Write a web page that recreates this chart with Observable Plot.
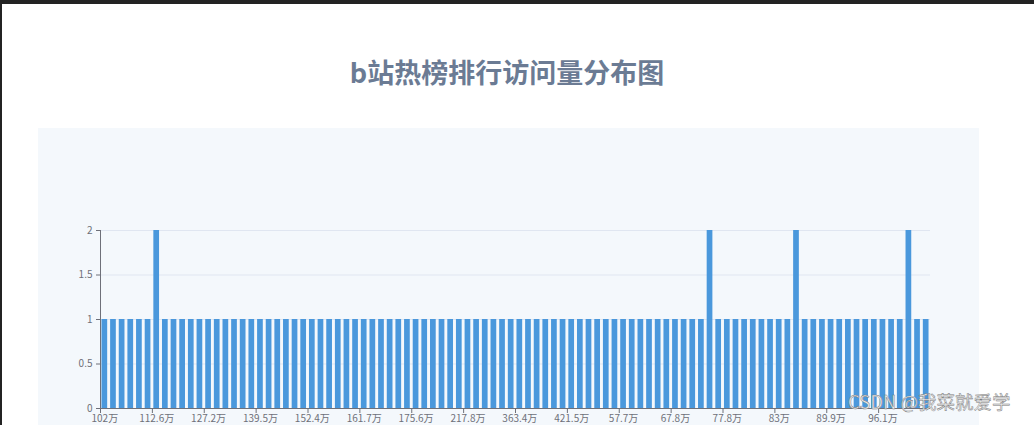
<!DOCTYPE html>
<html>
<head>
<meta charset="utf-8">
<script src="https://cdn.jsdelivr.net/npm/d3@7"></script>
<script src="https://cdn.jsdelivr.net/npm/@observablehq/plot@0.6"></script>
<style>
  html, body { margin: 0; padding: 0; width: 1034px; height: 425px; overflow: hidden; background: #fff; }
  #page { position: absolute; left: 0; top: 0; width: 1034px; height: 425px; border-top: 4px solid #232323; border-left: 2px solid #232323; box-sizing: border-box; }
  #title { position: absolute; left: 0; top: 53px; width: 1014px; text-align: center; font-family: "Noto Sans CJK SC", sans-serif; font-weight: 700; font-size: 27px; color: #6b7b94; line-height: 38px; }
  #panel { position: absolute; left: 38px; top: 128px; width: 941px; height: 297px; background: #f4f8fc; }
  #wm { position: absolute; left: 848px; top: 392px; font-family: "Noto Sans CJK SC", sans-serif; font-weight: 400; font-size: 18.5px; line-height: 19px; color: #ececec; -webkit-text-stroke: 0.45px #7a7a7a; white-space: nowrap; }
</style>
</head>
<body>
<div id="page"></div>
<div id="title">b站热榜排行访问量分布图</div>
<div id="panel"></div>
<div id="wm">CSDN @我菜就爱学</div>
<script>
// visible category labels (every 6th category)
const tickLabels = ["102万","112.6万","127.2万","139.5万","152.4万","161.7万","175.6万","217.8万",
                    "363.4万","421.5万","57.7万","67.8万","77.8万","83万","89.9万","96.1万"];
// count per category (96 categories)
const counts = [
  1,1,1,1,1,1,2,1,1,1,1,1,
  1,1,1,1,1,1,1,1,1,1,1,1,
  1,1,1,1,1,1,1,1,1,1,1,1,
  1,1,1,1,1,1,1,1,1,1,1,1,
  1,1,1,1,1,1,1,1,1,1,1,1,
  1,1,1,1,1,1,1,1,1,1,2,1,
  1,1,1,1,1,1,1,1,2,1,1,1,
  1,1,1,1,1,1,1,1,1,2,1,1
];
const yTicks = [0, 0.5, 1, 1.5, 2];
const labelEvery = 6;

const data = counts.map((v, i) => ({i, v}));
const idx = counts.map((_, i) => i);
const tickIdx = idx.filter(i => i % labelEvery === 0);

const W = 941, H = 297, ML = 62, MR = 49, MT = 102, MB = 17;
const step = (W - ML - MR) / counts.length;
const axisColor = "#6e7079";

const chart = Plot.plot({
  width: W, height: H,
  marginLeft: ML, marginRight: MR, marginTop: MT, marginBottom: MB,
  style: { background: "transparent", fontFamily: "'Noto Sans CJK SC', sans-serif" },
  x: { type: "band", domain: idx, paddingInner: 0.34, paddingOuter: 0.17, axis: null, label: null },
  y: { domain: [0, 2], axis: null, label: null },
  marks: [
    Plot.gridY(yTicks.filter(t => t > 0), { stroke: "#e0e6f1", strokeOpacity: 1 }),
    Plot.barY(data, { x: "i", y: "v", fill: "#4a98dc" }),
    Plot.ruleY([0], { stroke: axisColor }),
    Plot.ruleX([0], { x: d => d, dx: -step / 2, stroke: axisColor }),
    Plot.axisY({ ticks: yTicks, label: null, tickSize: 4, tickPadding: 4, fontSize: 10, fill: axisColor, stroke: axisColor, tickFormat: d => String(d) }),
    Plot.axisX({ ticks: tickIdx, label: null, tickSize: 5, tickFormat: () => "", dx: -step / 2, stroke: axisColor }),
    Plot.axisX({ ticks: tickIdx, label: null, tickSize: 0, tickPadding: 6, fontSize: 10, fill: axisColor, tickFormat: i => tickLabels[i / labelEvery] })
  ]
});
document.getElementById("panel").appendChild(chart);
</script>
</body>
</html>
